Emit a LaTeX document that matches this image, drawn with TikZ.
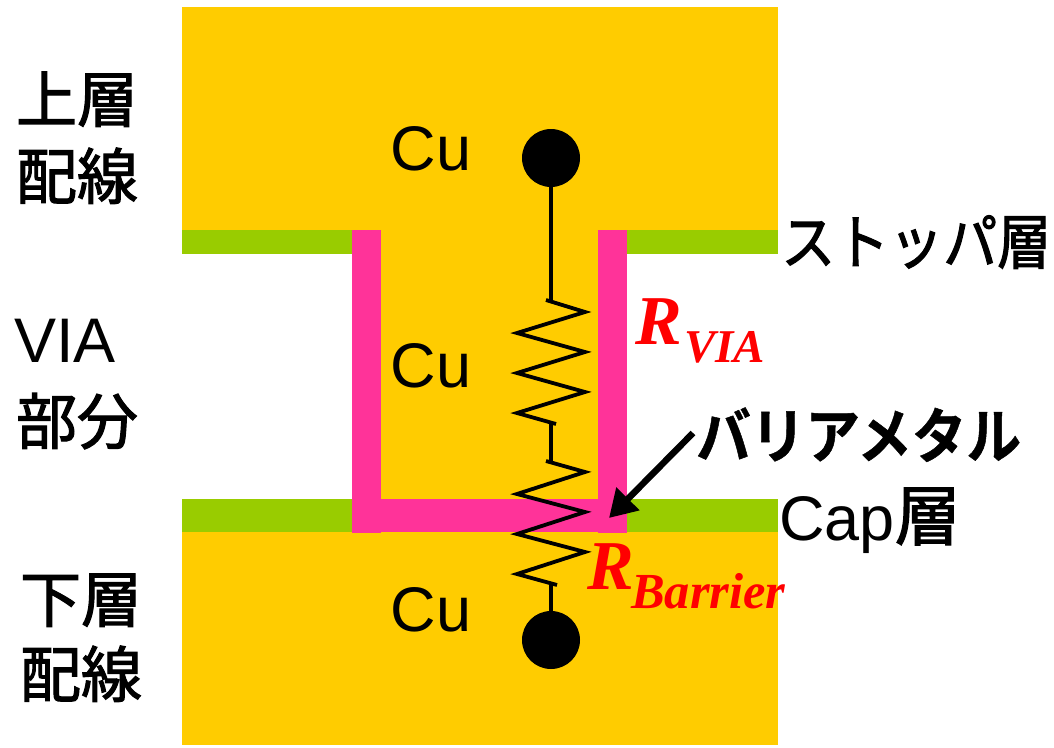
\documentclass[tikz,border=0pt]{standalone}
\usepackage{fontspec}
\usetikzlibrary{arrows.meta}
\setmainfont{Liberation Sans}
\newfontfamily\jpf{Noto Sans CJK JP}[RawFeature={embolden=1.8}]
\newfontfamily\jpn{Noto Sans CJK JP}[FakeStretch=0.9,RawFeature={embolden=1.8}]
\newfontfamily\jpb{Noto Sans CJK JP Bold}[FakeStretch=0.91,RawFeature={embolden=0.8}]
\newfontfamily\rmf{Liberation Serif}
\definecolor{cu}{HTML}{FFCC00}
\definecolor{capg}{HTML}{99CC00}
\definecolor{barr}{HTML}{FF3399}
\tikzset{
  x=1pt,y=-1pt,
  lbl/.style={inner sep=0pt,font=\fontsize{63}{63}\selectfont},
  jp/.style={inner sep=0pt,font=\jpf\fontsize{61}{61}\selectfont},
  rsym/.style={inner sep=0pt,text=red,font=\rmf\bfseries\itshape},
  wire/.style={line width=4.8pt,black},
  zig/.style={line width=3.8pt,black,line join=miter},
  dot/.style={circle,fill=black,minimum size=58pt,inner sep=0pt},
}
\begin{document}
\begin{tikzpicture}
\useasboundingbox (0,0) rectangle (1054,747);
\fill[white] (0,0) rectangle (1054,747);
% copper
\fill[cu] (182,7) rectangle (778,230);
\fill[cu] (381,230) rectangle (598,500);
\fill[cu] (182,532) rectangle (778,745);
% cap / stop layers
\fill[capg] (182,230) rectangle (352,254);
\fill[capg] (627,230) rectangle (778,254);
\fill[capg] (182,499) rectangle (778,532);
% barrier
\fill[barr] (352,230) rectangle (381,533);
\fill[barr] (598,230) rectangle (627,533);
\fill[barr] (381,499) rectangle (598,532);
% terminals
\node[dot] (top) at (551,158) {};
\node[dot] (bot) at (551,640) {};
\coordinate (r1a) at (551,300);
\coordinate (r1b) at (551,423);
\coordinate (r2a) at (551,463);
\coordinate (r2b) at (551,584);
\draw[wire] (top) -- (r1a);
\draw[wire] (r1b) -- (r2a);
\draw[wire] (r2b) -- (bot);
\draw[zig] (546,300) -- (585,312) -- (517,333) -- (585,352) -- (517,373) -- (585,392) -- (517,413) -- (556,424);
\draw[zig] (546,461) -- (585,472) -- (517,494) -- (585,512) -- (517,534) -- (585,552) -- (517,574) -- (557,585);
% labels
\node[lbl,anchor=base] (cu1) at (431,170) {Cu};
\node[lbl,anchor=base] (cu2) at (431,387) {Cu};
\node[lbl,anchor=base] (cu3) at (431,631) {Cu};
\node[jp,anchor=base] (l1) at (77,122) {上層};
\node[jp,anchor=base] (l2) at (77,199) {配線};
\node[lbl,anchor=base west] (l3) at (14,362) {VIA};
\node[jp,anchor=base] (l4) at (77,444) {部分};
\node[jp,anchor=base] (l5) at (81,622) {下層};
\node[jp,anchor=base] (l6) at (81,697) {配線};
\node[inner sep=0pt,anchor=base west,font=\jpn\fontsize{60}{60}\selectfont] (stop) at (781,264) {ストッパ層};
\node[lbl,anchor=base west] (cap) at (779,540) {Cap\jpf\fontsize{66}{66}\selectfont 層};
\node[inner sep=0pt,anchor=base west,font=\jpb\fontsize{60}{60}\selectfont] (bm) at (696,458) {バリアメタル};
\node[rsym,anchor=base west,font=\rmf\bfseries\itshape\fontsize{70}{70}\selectfont] (rv) at (635,344) {R};
\node[rsym,anchor=base west,font=\rmf\bfseries\itshape\fontsize{47}{47}\selectfont] (rvs) at (684,362) {VIA};
\node[rsym,anchor=base west,font=\rmf\bfseries\itshape\fontsize{70}{70}\selectfont] (rb) at (587,589) {R};
\node[rsym,anchor=base west,font=\rmf\bfseries\itshape\fontsize{50.5}{50}\selectfont] (rbs) at (631,608) {Barrier};
% arrow
\coordinate (atip) at (609,518);
\coordinate (atail) at (693,433);
\draw[line width=6.5pt,black,-{Triangle[length=27pt,width=31pt]}] (atail) -- (atip);
\end{tikzpicture}
\end{document}
